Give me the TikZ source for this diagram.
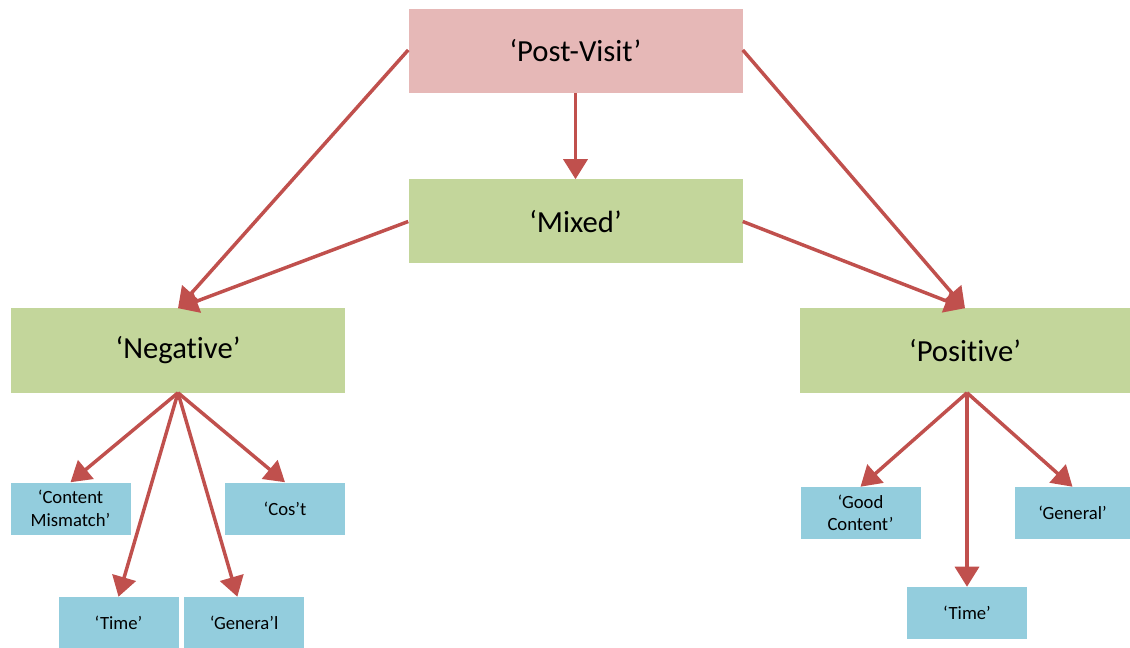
\documentclass[tikz,border=0pt]{standalone}
\usepackage{fontspec}
\setmainfont[Ligatures=NoCommon]{Carlito}
\usetikzlibrary{arrows.meta}
\definecolor{pinkbox}{HTML}{E6B8B7}
\definecolor{greenbox}{HTML}{C3D69B}
\definecolor{bluebox}{HTML}{93CDDD}
\definecolor{arrowred}{HTML}{C0504D}
\tikzset{
  bigbox/.style={fill=#1, draw=none, minimum width=250.5pt, minimum height=63pt, inner sep=0pt, font=\fontsize{23}{27}\selectfont},
  smallbox/.style={fill=bluebox, draw=none, minimum width=90pt, minimum height=39pt, inner sep=0pt, align=center, font=\fontsize{14}{17}\selectfont},
  conn/.style={draw=arrowred, line width=2.6pt, -{Triangle[length=15pt,width=18pt]}, shorten >=0pt}
}
\begin{document}
\begin{tikzpicture}[x=0.75pt,y=-0.75pt]
\useasboundingbox (0,0) rectangle (1130,648);
\node[bigbox=pinkbox] (post) at (575.5,51) {‘Post-Visit’};
\node[bigbox=greenbox] (mixed) at (575.5,221.5) {‘Mixed’};
\node[bigbox=greenbox] (neg) at (178,350.5) {‘Negative’};
\node[bigbox=greenbox, minimum width=247.5pt] (pos) at (965,350.5) {‘Positive’};
\node[smallbox] (cm) at (70.5,508.5) {‘Content\\Mismatch’};
\node[smallbox] (cost) at (285,508.5) {‘Cos’t};
\node[smallbox, minimum height=38.25pt] (timel) at (118.5,622.5) {‘Time’};
\node[smallbox, minimum height=38.25pt] (genl) at (244,622.5) {‘Genera’l};
\node[smallbox] (good) at (860.5,513) {‘Good\\Content’};
\node[smallbox, minimum width=86.25pt] (genr) at (1072.5,513) {‘General’};
\node[smallbox] (timer) at (967,613) {‘Time’};
\draw[conn] ([yshift=0.75pt]post.west) -- (neg.north);
\draw[conn] ([yshift=0.75pt]post.east) -- (pos.north);
\draw[conn] (post.south) -- (mixed.north);
\draw[conn] (mixed.west) -- (neg.north);
\draw[conn] (mixed.east) -- (pos.north);
\draw[conn] (neg.south) -- (cm.north);
\draw[conn] (neg.south) -- (cost.north);
\draw[conn] (neg.south) -- (timel.north);
\draw[conn] (neg.south) -- ([xshift=-5pt]genl.north);
\draw[conn] ([xshift=1.5pt]pos.south) -- (good.north);
\draw[conn] ([xshift=1.5pt]pos.south) -- (timer.north);
\draw[conn] ([xshift=1.5pt]pos.south) -- (genr.north);
\end{tikzpicture}
\end{document}
